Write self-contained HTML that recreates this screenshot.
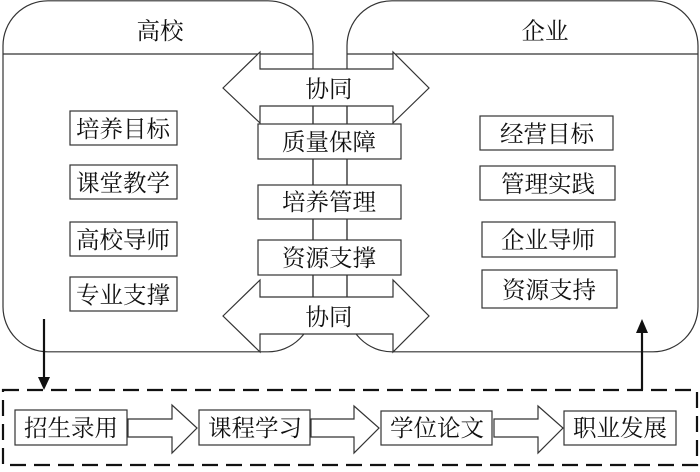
<!DOCTYPE html>
<html><head><meta charset="utf-8"><style>
html,body{margin:0;padding:0;background:#fff;}
svg text{font-family:"Liberation Serif","Noto Serif CJK SC","Noto Sans CJK SC",serif;font-size:23.5px;fill:#111;}
</style></head><body>
<svg width="700" height="467" viewBox="0 0 700 467" xmlns="http://www.w3.org/2000/svg">
<g fill="none" stroke="#333" stroke-width="1.2">
<rect x="3" y="0.8" width="310" height="351" rx="45" ry="45"/>
<line x1="3" y1="54" x2="313" y2="54"/>
<rect x="347" y="0.8" width="351" height="351" rx="45" ry="45"/>
<line x1="347" y1="54" x2="698" y2="54"/>
</g>
<polygon points="223,88 260,52 260,69 393,69 393,52 429,88 393,123 393,106 260,106 260,123" fill="#fff" stroke="#333" stroke-width="1.2"/>
<rect x="298" y="73" width="64" height="30" fill="#fff"/>
<text x="329" y="97" text-anchor="middle">协同</text>
<polygon points="223,316 260,280 260,297 393,297 393,280 429,316 393,352 393,334 260,334 260,352" fill="#fff" stroke="#333" stroke-width="1.2"/>
<rect x="298" y="301" width="64" height="30" fill="#fff"/>
<text x="329" y="325" text-anchor="middle">协同</text>
<line x1="313" y1="106" x2="313" y2="297" stroke="#333" stroke-width="1.2"/>
<line x1="347" y1="106" x2="347" y2="297" stroke="#333" stroke-width="1.2"/>
<g fill="#fff" stroke="#333" stroke-width="1.2">
<rect x="258" y="124" width="143" height="35"/>
<rect x="258" y="185" width="143" height="34"/>
<rect x="258" y="240" width="143" height="35"/>
<rect x="70" y="111" width="107" height="34"/>
<rect x="70" y="165" width="107" height="34"/>
<rect x="70" y="222" width="107" height="34"/>
<rect x="70" y="277" width="107" height="34"/>
<rect x="480" y="116" width="133" height="34"/>
<rect x="480" y="166" width="135" height="34"/>
<rect x="482" y="222" width="133" height="35"/>
<rect x="482" y="270" width="135" height="38"/>
</g>
<text x="160" y="39" text-anchor="middle">高校</text>
<text x="545" y="39" text-anchor="middle">企业</text>
<g text-anchor="middle">
<text x="329" y="150">质量保障</text>
<text x="329" y="210">培养管理</text>
<text x="329" y="266">资源支撑</text>
<text x="123" y="137">培养目标</text>
<text x="123" y="191">课堂教学</text>
<text x="123" y="248">高校导师</text>
<text x="123" y="303">专业支撑</text>
<text x="547" y="142">经营目标</text>
<text x="548" y="192">管理实践</text>
<text x="548" y="248">企业导师</text>
<text x="549" y="298">资源支持</text>
</g>
<rect x="3" y="390" width="694" height="75" fill="none" stroke="#111" stroke-width="2.2" stroke-dasharray="16,8"/>
<line x1="44" y1="319" x2="44" y2="378" stroke="#111" stroke-width="2.2"/>
<polygon points="38,377 50,377 44,390" fill="#111"/>
<line x1="642" y1="332" x2="642" y2="390" stroke="#111" stroke-width="2.2"/>
<polygon points="636,333 648,333 642,319" fill="#111"/>
<g fill="#fff" stroke="#333" stroke-width="1.2">
<rect x="15" y="410" width="112" height="35"/>
<rect x="199" y="410" width="111" height="35"/>
<rect x="381" y="411" width="111" height="34"/>
<rect x="564" y="411" width="112" height="34"/>
<polygon points="128,419 172,419 172,405 197,428 172,453 172,437 128,437"/>
<polygon points="311,419 354,419 354,406 379,428 354,453 354,437 311,437"/>
<polygon points="494,419 538,419 538,406 563,428 538,453 538,437 494,437"/>
</g>
<g text-anchor="middle">
<text x="71" y="436">招生录用</text>
<text x="255" y="436">课程学习</text>
<text x="437" y="436">学位论文</text>
<text x="620" y="436">职业发展</text>
</g>
</svg>
</body></html>
